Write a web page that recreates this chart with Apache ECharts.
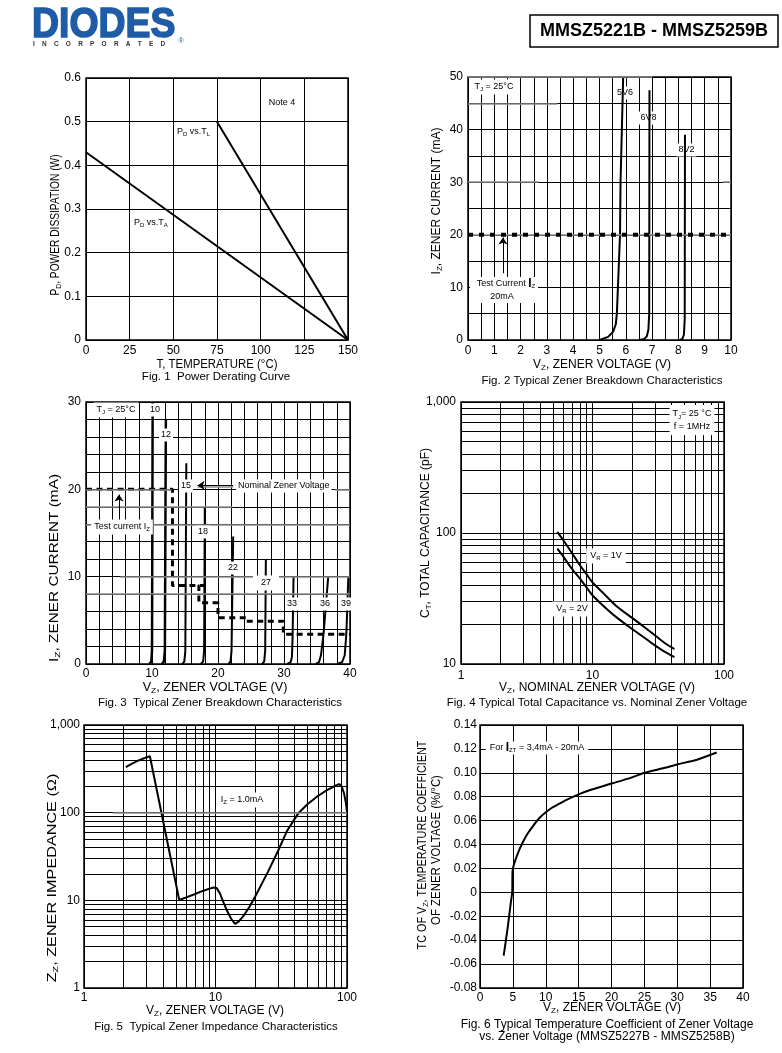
<!DOCTYPE html>
<html><head><meta charset="utf-8">
<script src="https://cdn.jsdelivr.net/npm/echarts@6/dist/echarts.min.js"></script>
<style>html,body{margin:0;padding:0;background:#fff}#c{width:782px;height:1053px}</style>
</head><body><div id="c"></div>
<script>
const F = '"Liberation Sans", Arial, Helvetica, sans-serif';

// ---------- Fig 1 ----------
const fig1XTicks = ['0','25','50','75','100','125','150'];
const fig1YTicks = ['0','0.1','0.2','0.3','0.4','0.5','0.6'];
const pdVsTA = [[0,0.43],[150,0]];
const pdVsTL = [[75,0.5],[150,0]];

// ---------- Fig 2 ----------
const fig2XTicks = ['0','1','2','3','4','5','6','7','8','9','10'];
const fig2YTicks = ['0','10','20','30','40','50'];
const iz5V6 = [[5.0,0],[5.33,0.6],[5.52,1.6],[5.62,3],[5.66,5],[5.78,20],[5.8,30],[5.9,50]];
const iz6V8 = [[6.5,0],[6.7,0.2],[6.8,0.7],[6.86,2],[6.89,5],[6.9,47.5]];
const iz8V2 = [[8.05,0],[8.15,0.2],[8.21,1],[8.24,4],[8.25,39]];
const fig2TestCurrent = [[0,20],[10,20]];

// ---------- Fig 3 ----------
const fig3XTicks = ['0','10','20','30','40'];
const fig3YTicks = ['0','10','20','30'];
const iz10 = [[9.6,0],[9.9,0.3],[10.0,1.5],[10.1,30]];
const iz12 = [[11.5,0],[11.8,0.3],[11.95,1.5],[12.1,28]];
const iz15 = [[14.6,0],[14.9,0.3],[15.05,1.5],[15.2,23]];
const iz18 = [[17.4,0],[17.75,0.3],[17.9,1.5],[18.0,18]];
const iz22 = [[21.6,0],[21.9,0.3],[22.05,1.5],[22.3,14.6]];
const iz27 = [[26.7,0],[27.0,0.3],[27.15,1.5],[27.25,12]];
const iz33 = [[30.5,0],[31.0,0.2],[31.2,0.8],[31.3,3],[31.45,10]];
const iz36 = [[34.8,0],[35.3,0.2],[35.6,1],[36.0,3.5],[36.7,10]];
const iz39 = [[38.0,0],[38.8,0.2],[39.2,1],[39.45,3.5],[39.75,10]];
const fig3TestCurrent = [[0,20],[13.1,20],[13.1,9],[18,9],[17.1,9],[17.1,7],[20,7],[20,5.3],[24.3,5.3],[24.3,4.9],[29.9,4.9],[29.9,3.4],[40,3.4]];

// ---------- Fig 4 ----------
const fig4XTicks = ['1','10','100'];
const fig4YTicks = ['10','100','1,000'];
const fig4XGrid = [2,3,4,5,6,7,8,9,20,30,40,50,60,70,80,90];
const fig4YGrid = [20,30,40,50,60,70,80,90,200,300,400,500,600,700,800,900];
const ctVr1 = [[5.4,102],[6,88],[7,70],[8,57],[9,48.5],[10,42],[12,35],[15,28],[20,22.5],[25,19],[30,16.5],[35,14.6],[42,13]];
const ctVr2 = [[5.4,76],[6,66],[7,53],[8,45],[9,38.5],[10,33.5],[12,28],[15,23],[20,18.5],[25,15.8],[30,13.8],[35,12.5],[42,11.3]];

// ---------- Fig 5 ----------
const fig5XTicks = ['1','10','100'];
const fig5YTicks = ['1','10','100','1,000'];
const fig5XGrid = [2,3,4,5,6,7,8,9,20,30,40,50,60,70,80,90];
const fig5YGrid = [2,3,4,5,6,7,8,9,20,30,40,50,60,70,80,90,200,300,400,500,600,700,800,900];
const zzData = [[2.08,330],[2.3,360],[2.6,395],[2.9,420],[3.17,440],[5.3,10.1],[6,10.8],[7,11.8],[8,12.8],[9,13.6],[9.7,14],[10.2,13.8],[10.8,12],[11.5,9.5],[12.3,7.5],[13.2,6.1],[14.1,5.4],[15,5.7],[16.5,6.8],[18,8.3],[20,11],[25,21],[30,37],[35,62],[40,85],[43,100],[50,125],[60,155],[70,180],[80,200],[87,212],[91,200],[95,165],[98,130],[100,103]];

// ---------- Fig 6 ----------
const fig6XTicks = ['0','5','10','15','20','25','30','35','40'];
const fig6YTicks = ['-0.08','-0.06','-0.04','-0.02','0','0.02','0.04','0.06','0.08','0.10','0.12','0.14'];
const tcData = [[3.6,-0.053],[4.2,-0.03],[4.7,-0.008],[4.9,0.0],[4.95,0.018],[5.2,0.024],[6,0.036],[7,0.047],[8,0.055],[9,0.062],[10,0.067],[11,0.071],[12,0.074],[13,0.077],[15,0.082],[17,0.086],[20,0.091],[23,0.096],[25,0.1],[28,0.104],[30,0.107],[33,0.111],[36,0.117]];

// ---------- helpers ----------
const grids = [
  {left:86, top:78, width:262, height:262},
  {left:468, top:77, width:263, height:263},
  {left:86, top:402, width:264, height:262},
  {left:461, top:402, width:263, height:262},
  {left:84, top:725, width:263, height:263},
  {left:480, top:725, width:263, height:263}
].map(g => Object.assign(g, {show:true, borderColor:'#000', borderWidth:1.5, backgroundColor:'transparent', containLabel:false, outerBoundsMode:'none'}));

function labelStyle(margin, fmt) {
  return {show:true, margin, color:'#000', fontSize:12, fontFamily:F, showMinLabel:true, showMaxLabel:true, hideOverlap:false, formatter:fmt};
}
function linAxis(grid, ticks, min, interval, minorSplit, margin) {
  const max = min + interval * (ticks.length - 1);
  return {type:'value', gridIndex:grid, min, max, interval,
    axisLine:{show:false}, axisTick:{show:false},
    axisLabel:labelStyle(margin, v => { const t = ticks[Math.round((v - min) / interval)]; return t === undefined ? '' : t; }),
    splitLine:{show:true, lineStyle:{color:'#000', width:1}},
    minorTick:{show:false, splitNumber:minorSplit || 2},
    minorSplitLine:{show:!!minorSplit, lineStyle:{color:'#000', width:1}}};
}
function logAxis(grid, ticks, min, margin) {
  const max = min * Math.pow(10, ticks.length - 1);
  return {type:'log', logBase:10, gridIndex:grid, min, max,
    axisLine:{show:false}, axisTick:{show:false},
    axisLabel:labelStyle(margin, v => { const t = ticks[Math.round(Math.log10(v / min))]; return t === undefined ? '' : t; }),
    splitLine:{show:true, lineStyle:{color:'#000', width:1}},
    minorSplitLine:{show:false}};
}
function curve(i, data, o) {
  o = o || {};
  return {type:'line', xAxisIndex:i, yAxisIndex:i, data, symbol:'none', showSymbol:false,
    smooth:o.smooth || false, lineStyle:{color:o.color || '#000', width:o.w || 2, type:o.type || 'solid'},
    z:o.z || 3, silent:true, animation:false, clip:true};
}
function lines(i, anchor, data, style, z, sym) {
  return {type:'line', xAxisIndex:i, yAxisIndex:i, data:[anchor], symbol:'none', showSymbol:false,
    lineStyle:{opacity:0}, z:z, silent:true, animation:false,
    markLine:{silent:true, animation:false, symbol:sym || ['none','none'], symbolSize:7, label:{show:false},
      emphasis:{disabled:true}, lineStyle:Object.assign({color:'#000', width:1, type:'solid', opacity:1}, style), data}};
}
const seg = (a, b) => [{coord:a}, {coord:b}];

function richFor(fs) {
  return {
    s:{fontSize:Math.max(6, Math.round(fs * 0.7)), fontFamily:F, fill:'#000', verticalAlign:'bottom', lineHeight:Math.round(fs * 0.45)},
    b:{fontSize:Math.round(fs * 1.3), fontWeight:'bold', fontFamily:F, fill:'#000'}
  };
}
function T(x, y, text, o) {
  o = o || {};
  const fs = o.fs || 12;
  const st = {text, fontSize:fs, fontFamily:F, fontWeight:o.fw || 'normal', fill:o.fill || '#000',
    textAlign:o.align || 'center', align:o.align || 'center', textVerticalAlign:'middle', verticalAlign:'middle',
    lineHeight:o.lh || fs + 2, rich:richFor(fs)};
  if (o.bg) { st.backgroundColor = o.bg; st.padding = o.pad || [1, 2]; }
  if (o.stroke) { st.stroke = o.stroke; st.lineWidth = o.lw || 1; }
  const el = {type:'text', x, y, rotation:o.rot || 0, z:o.z || 100, silent:true, style:st};
  if (o.scaleX) el.scaleX = o.scaleX;
  return el;
}
const R = Math.PI / 2;

const graphic = [
  // header
  T(32, 25, 'DIODES', {fs:42, fw:'bold', fill:'#1f5ca8', stroke:'#1f5ca8', lw:1.6, align:'left', scaleX:0.89}),
  T(33, 44, 'I    N    C    O    R    P    O    R    A    T    E    D', {fs:6.5, fw:'bold', fill:'#333', align:'left'}),
  T(181, 41, '®', {fs:7, fill:'#1f5ca8'}),
  {type:'rect', shape:{x:530, y:15, width:248, height:32}, style:{fill:'none', stroke:'#000', lineWidth:1.5}, z:100, silent:true},
  T(654, 31.5, 'MMSZ5221B - MMSZ5259B', {fs:18, fw:'bold'}),

  // fig 1
  T(56, 225, 'P{s|D}, POWER DISSIPATION (W)', {rot:R, scaleX:0.85}),
  T(217, 365, 'T, TEMPERATURE (°C)', {scaleX:0.95}),
  T(216, 377, 'Fig. 1  Power Derating Curve', {fs:11.5}),
  T(282, 103, 'Note 4', {fs:9}),
  T(177, 132, 'P{s|D} vs.T{s|L}', {fs:9, align:'left'}),
  T(134, 223, 'P{s|D} vs.T{s|A}', {fs:9, align:'left'}),

  // fig 2
  T(437, 201, 'I{s|Z}, ZENER CURRENT (mA)', {rot:R}),
  T(602, 365, 'V{s|Z}, ZENER VOLTAGE (V)'),
  T(602, 381, 'Fig. 2 Typical Zener Breakdown Characteristics', {fs:11.5}),
  T(494, 87, 'T{s|J} = 25°C', {fs:9, bg:'#fff', pad:[2,4]}),
  T(625, 93, '5V6', {fs:9, bg:'#fff', z:1.5}),
  T(648.5, 118, '6V8', {fs:9, bg:'#fff', z:1.5}),
  T(686.5, 150, '8V2', {fs:9, bg:'#fff', z:1.5}),
  {type:'rect', shape:{x:470, y:277, width:68, height:26}, style:{fill:'#fff'}, z:99, silent:true},
  T(506, 284, 'Test Current {b|I}{s|Z}', {fs:9}),
  T(502, 297, '20mA', {fs:9}),

  // fig 3
  T(55, 568, 'I{s|Z}, ZENER CURRENT (mA)', {rot:R, scaleX:1.28}),
  T(215, 688, 'V{s|Z}, ZENER VOLTAGE (V)', {scaleX:1.05}),
  T(220, 703, 'Fig. 3  Typical Zener Breakdown Characteristics', {fs:11.5}),
  T(116, 410, 'T{s|J} = 25°C', {fs:9, bg:'#fff', pad:[2,3]}),
  T(155, 410, '10', {fs:9, bg:'#fff'}),
  T(166, 435, '12', {fs:9, bg:'#fff'}),
  T(186, 486, '15', {fs:9, bg:'#fff'}),
  T(203, 532, '18', {fs:9, bg:'#fff'}),
  T(233, 568, '22', {fs:9, bg:'#fff'}),
  T(266, 583, '27', {fs:9, bg:'#fff', pad:[2,8]}),
  T(292, 604, '33', {fs:9, bg:'#fff'}),
  T(325, 604, '36', {fs:9, bg:'#fff'}),
  T(346, 604, '39', {fs:9, bg:'#fff', pad:[1,1]}),
  T(236, 486, 'Nominal Zener Voltage', {fs:9, align:'left', bg:'#fff'}),
  T(122, 527, 'Test current I{s|Z}', {fs:9, bg:'#fff', pad:[2,3]}),

  // fig 4
  T(426, 533, 'C{s|T}, TOTAL CAPACITANCE (pF)', {rot:R}),
  T(597, 688, 'V{s|Z}, NOMINAL ZENER VOLTAGE (V)'),
  T(597, 703, 'Fig. 4 Typical Total Capacitance vs. Nominal Zener Voltage', {fs:11.5}),
  T(692, 420, 'T{s|J}= 25 °C\nf = 1MHz', {fs:9, bg:'#fff', pad:[2,3], lh:13}),
  T(606, 556, 'V{s|R} = 1V', {fs:9, bg:'#fff', pad:[2,4]}),
  T(572, 609, 'V{s|R} = 2V', {fs:9, bg:'#fff', pad:[2,4]}),

  // fig 5
  T(53, 878, 'Z{s|Z}, ZENER IMPEDANCE (Ω)', {rot:R, scaleX:1.35}),
  T(215, 1011, 'V{s|Z}, ZENER VOLTAGE (V)'),
  T(216, 1027, 'Fig. 5  Typical Zener Impedance Characteristics', {fs:11.5}),
  T(242, 800, 'I{s|Z} = 1.0mA', {fs:9, bg:'#fff', pad:[2,4]}),

  // fig 6
  T(423, 845, 'TC OF V{s|Z}, TEMPERATURE COEFFICIENT', {rot:R, scaleX:0.9}),
  T(437, 850, 'OF ZENER VOLTAGE (%/°C)', {rot:R, scaleX:0.95}),
  T(612, 1008, 'V{s|Z}, ZENER VOLTAGE (V)'),
  T(607, 1025, 'Fig. 6 Typical Temperature Coefficient of Zener Voltage', {fs:12}),
  T(607, 1037, 'vs. Zener Voltage (MMSZ5227B - MMSZ5258B)', {fs:12}),
  T(537, 748, 'For {b|I}{s|ZT} = 3,4mA - 20mA', {fs:9, bg:'#fff', pad:[1,4]})
];

const xAxis = [
  linAxis(0, fig1XTicks, 0, 25, 0, 5),
  linAxis(1, fig2XTicks, 0, 1, 2, 5),
  linAxis(2, fig3XTicks, 0, 10, 5, 4),
  logAxis(3, fig4XTicks, 1, 6),
  logAxis(4, fig5XTicks, 1, 4),
  linAxis(5, fig6XTicks, 0, 5, 0, 4)
];
const yAxis = [
  linAxis(0, fig1YTicks, 0, 0.1, 0, 5),
  linAxis(1, fig2YTicks, 0, 10, 2, 5),
  linAxis(2, fig3YTicks, 0, 10, 5, 5),
  logAxis(3, fig4YTicks, 10, 5),
  logAxis(4, fig5YTicks, 1, 4),
  linAxis(5, fig6YTicks, -0.08, 0.02, 0, 3)
];

const gray = {color:'#8c8c8c', width:1.6};
const series = [
  // fig 1
  curve(0, pdVsTA), curve(0, pdVsTL),
  // fig 2
  lines(1, [0,0], [
    seg([0,50],[7,50]), seg([0,45],[3.4,45]), seg([0,30],[2.7,30]), seg([9.7,30],[10,30]), seg([0,20],[10,20])
  ], gray, 2),
  curve(1, fig2TestCurrent, {w:4, type:[5,6], z:6}),
  curve(1, iz5V6), curve(1, iz6V8), curve(1, iz8V2),
  lines(1, [0,0], [seg([1.33,12.7],[1.33,19.5])], {width:1}, 5, ['none','arrow']),
  // fig 3
  lines(2, [0,0], [
    seg([0,20],[13,20]), seg([16.9,20.3],[22.3,20.3]), seg([37.7,20],[40,20]),
    seg([0,18],[22.2,18]), seg([0,16],[40,16]), seg([5.2,10],[40,10]), seg([0,8],[40,8])
  ], gray, 2),
  curve(2, fig3TestCurrent, {w:3, type:[6,4.5], z:4}),
  curve(2, iz10, {w:2.5}), curve(2, iz12, {w:2.5}), curve(2, iz15), curve(2, iz18), curve(2, iz22),
  curve(2, iz27), curve(2, iz33), curve(2, iz36), curve(2, iz39),
  lines(2, [0,0], [seg([5.0,15.6],[5.0,19.4]), seg([22.3,20.45],[16.9,20.45])], {width:1}, 5, ['none','arrow']),
  // fig 4
  lines(3, [1,10], fig4XGrid.map(v => ({xAxis:v})).concat(fig4YGrid.map(v => ({yAxis:v}))), {}, 1),
  curve(3, ctVr1, {smooth:0.3}), curve(3, ctVr2, {smooth:0.3}),
  // fig 5
  lines(4, [1,1], fig5XGrid.map(v => ({xAxis:v})).concat(fig5YGrid.map(v => ({yAxis:v}))), {}, 1),
  lines(4, [1,1], [seg([1.66,100],[100,100])], gray, 2),
  curve(4, zzData),
  // fig 6
  curve(5, tcData, {smooth:0.2})
];

const chart = echarts.init(document.getElementById('c'), null, {renderer:'canvas'});
chart.setOption({
  backgroundColor:'#fff',
  animation:false,
  textStyle:{fontFamily:F},
  grid:grids, xAxis, yAxis, series, graphic
});
</script></body></html>
